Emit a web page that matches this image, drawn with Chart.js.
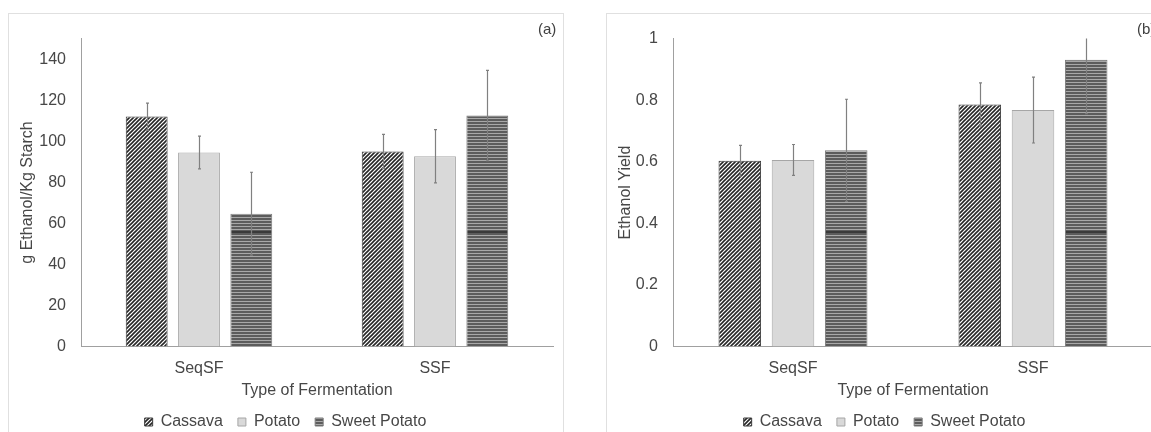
<!DOCTYPE html>
<html>
<head>
<meta charset="utf-8">
<script src="https://cdn.jsdelivr.net/npm/chart.js@4.4.1/dist/chart.umd.min.js"></script>
<style>
body { margin:0; width:1151px; height:432px; overflow:hidden; background:#fff; position:relative; font-family:"Liberation Sans", Arial, sans-serif; }
.panel { position:absolute; top:13px; border:1px solid #e0e0e0; height:440px; }
#pa { left:8px; width:554px; }
#pb { left:606px; width:560px; }
.panel canvas { position:absolute; left:0; top:0; }
.tag { position:absolute; top:20px; font-size:15px; line-height:18px; color:#404040; }
</style>
</head>
<body>
<div class="panel" id="pa"><canvas id="chartA" width="554" height="426"></canvas></div>
<div class="panel" id="pb"><canvas id="chartB" width="556" height="426"></canvas></div>
<div class="tag" style="left:538px">(a)</div>
<div class="tag" style="left:1137px">(b)</div>
<script>
var categories = ['SeqSF', 'SSF'];
var seriesNames = ['Cassava', 'Potato', 'Sweet Potato'];

// (a) g Ethanol / Kg Starch
var starchCassava = [112, 95];
var starchPotato = [94.5, 92.7];
var starchSweet = [64.7, 112.5];
var starchCassavaErr = [6.6, 8.3];
var starchPotatoErr = [8, 13];
var starchSweetErr = [20.2, 22];
var starchTicks = [0, 20, 40, 60, 80, 100, 120, 140];

// (b) Ethanol yield
var yieldCassava = [0.603, 0.786];
var yieldPotato = [0.606, 0.768];
var yieldSweet = [0.637, 0.931];
var yieldCassavaErr = [0.05, 0.07];
var yieldPotatoErr = [0.05, 0.107];
var yieldSweetErr = [0.166, 0.175];
var yieldTicks = [0, 0.2, 0.4, 0.6, 0.8, 1];

var textColor = '#474747';
var fontFam = '"Liberation Sans", Arial, sans-serif';

function hatchPattern() {
    var c = document.createElement('canvas');
    c.width = 4; c.height = 4;
    var g = c.getContext('2d');
    g.fillStyle = '#ffffff';
    g.fillRect(0, 0, 4, 4);
    g.strokeStyle = '#262626';
    g.lineWidth = 1.6;
    g.beginPath();
    g.moveTo(0, 4); g.lineTo(4, 0);
    g.moveTo(-1, 1); g.lineTo(1, -1);
    g.moveTo(3, 5); g.lineTo(5, 3);
    g.stroke();
    return g.createPattern(c, 'repeat');
}

function stripePattern() {
    var c = document.createElement('canvas');
    c.width = 3; c.height = 420;
    var g = c.getContext('2d');
    for (var y = 0; y < 420; y++) {
        g.fillStyle = (y % 3 == 2) ? '#a8a8a8' : '#5c5c5c';
        g.fillRect(0, y, 3, 1);
    }
    g.fillStyle = '#3a3a3a';
    g.fillRect(0, 217, 3, 2);
    return g.createPattern(c, 'repeat');
}

var errorBars = {
    id: 'errorBars',
    afterDatasetsDraw: function(chart) {
        var ctx = chart.ctx;
        var yScale = chart.scales.y;
        var area = chart.chartArea;
        ctx.save();
        ctx.strokeStyle = '#808080';
        ctx.lineWidth = 1.2;
        chart.data.datasets.forEach(function(ds, i) {
            var meta = chart.getDatasetMeta(i);
            meta.data.forEach(function(bar, j) {
                var v = ds.data[j], e = ds.errors[j];
                var yTop = Math.max(yScale.getPixelForValue(v + e), area.top);
                var yBot = Math.min(yScale.getPixelForValue(v - e), area.bottom);
                var x = Math.round(bar.x) + 0.5;
                ctx.beginPath();
                ctx.moveTo(x, yTop); ctx.lineTo(x, yBot);
                if (yTop > area.top) { ctx.moveTo(x - 1.5, yTop); ctx.lineTo(x + 1.5, yTop); }
                ctx.moveTo(x - 1.5, yBot); ctx.lineTo(x + 1.5, yBot);
                ctx.stroke();
            });
        });
        ctx.restore();
    }
};

function makeChart(id, yTitle, vals, errs, ticks, yMax, stepSize, padTop, yWidth) {
    var ctx = document.getElementById(id).getContext('2d');
    return new Chart(ctx, {
        type: 'bar',
        data: {
            labels: categories,
            datasets: [{
                label: seriesNames[0],
                data: vals[0],
                errors: errs[0],
                backgroundColor: hatchPattern(),
                borderColor: '#3a3a3a',
                borderWidth: 1
            }, {
                label: seriesNames[1],
                data: vals[1],
                errors: errs[1],
                backgroundColor: '#d9d9d9',
                borderColor: '#a6a6a6',
                borderWidth: 1
            }, {
                label: seriesNames[2],
                data: vals[2],
                errors: errs[2],
                backgroundColor: stripePattern(),
                borderColor: '#7a7a7a',
                borderWidth: 1
            }]
        },
        options: {
            responsive: false,
            animation: false,
            layout: { padding: { left: 9, right: 10, top: padTop, bottom: 0 } },
            datasets: { bar: { barPercentage: 0.8, categoryPercentage: 0.665 } },
            plugins: {
                tooltip: { enabled: false },
                legend: {
                    position: 'bottom',
                    labels: {
                        boxWidth: 8,
                        boxHeight: 8,
                        padding: 15,
                        color: textColor,
                        font: { family: fontFam, size: 16 }
                    }
                }
            },
            scales: {
                x: {
                    grid: { display: false, drawTicks: false },
                    border: { color: '#a0a0a0', width: 1 },
                    ticks: { padding: 12, color: textColor, font: { family: fontFam, size: 16 } },
                    title: {
                        display: true,
                        text: 'Type of Fermentation',
                        color: textColor,
                        padding: { top: 0, bottom: 0 },
                        font: { family: fontFam, size: 16, lineHeight: 1 }
                    },
                    afterFit: function(scale) { scale.height = 52.5; }
                },
                y: {
                    min: 0,
                    max: yMax,
                    grid: { display: false, drawTicks: false },
                    border: { color: '#a0a0a0', width: 1 },
                    ticks: {
                        stepSize: stepSize,
                        padding: 15,
                        color: textColor,
                        font: { family: fontFam, size: 16 },
                        callback: function(v) { return String(+v.toFixed(2)); }
                    },
                    afterBuildTicks: function(scale) {
                        scale.ticks = ticks.map(function(t) { return { value: t }; });
                    },
                    title: {
                        display: true,
                        text: yTitle,
                        color: textColor,
                        padding: { top: 0, bottom: 0 },
                        font: { family: fontFam, size: 16 }
                    },
                    afterFit: function(scale) { scale.width = yWidth; }
                }
            }
        },
        plugins: [errorBars]
    });
}

makeChart('chartA', 'g Ethanol/Kg Starch',
    [starchCassava, starchPotato, starchSweet],
    [starchCassavaErr, starchPotatoErr, starchSweetErr],
    starchTicks, 150, 20, 12, 63);

makeChart('chartB', 'Ethanol Yield',
    [yieldCassava, yieldPotato, yieldSweet],
    [yieldCassavaErr, yieldPotatoErr, yieldSweetErr],
    yieldTicks, 1, 0.2, 13, 57);
</script>
</body>
</html>
